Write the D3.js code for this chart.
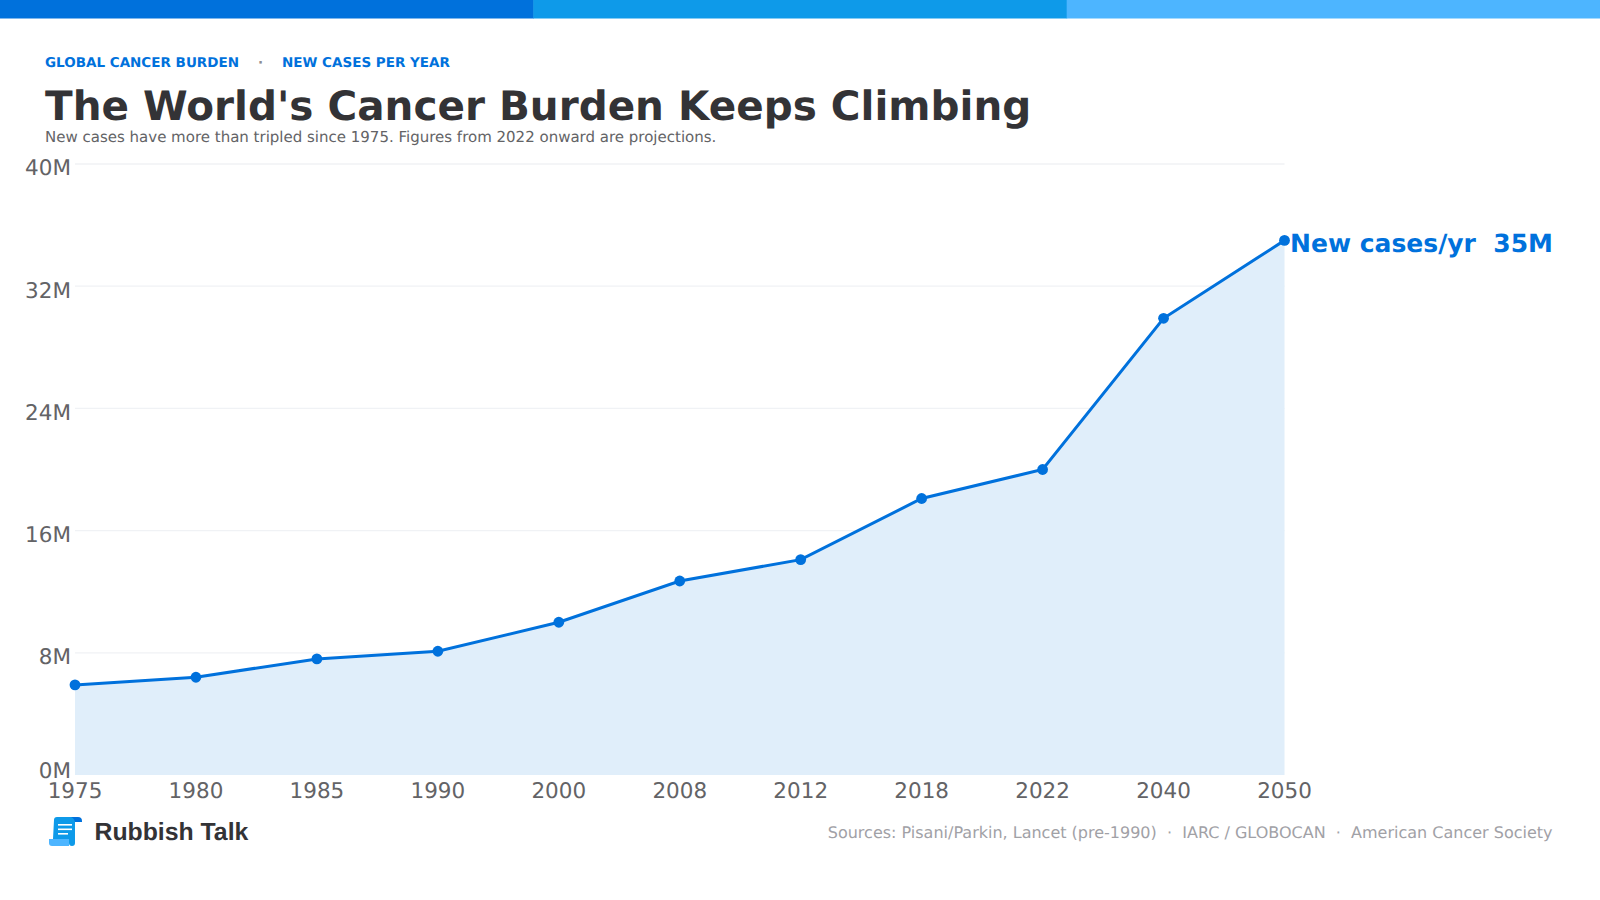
<!DOCTYPE html>
<html><head><meta charset="utf-8">
<script src="https://cdn.jsdelivr.net/npm/d3@7"></script>
<style>html,body{margin:0;padding:0;background:#fff}svg{display:block;font-family:"DejaVu Sans";text-rendering:geometricPrecision}</style>
</head><body><svg id="c" width="1600" height="900"></svg>
<script>
const years=["1975","1980","1985","1990","2000","2008","2012","2018","2022","2040","2050"];
const newCases=[5.9,6.4,7.6,8.1,10,12.7,14.1,18.1,20,29.9,35];
const yTicks=[0,8,16,24,32,40];
const bandColors=["#0071DC","#0E9AE9","#4DB5FF"];
const svg=d3.select("#c");
const W=1600,plot={l:75,r:1284.5,t:164,b:775};
const x=d3.scalePoint().domain(years).range([plot.l,plot.r]);
const y=d3.scaleLinear().domain([0,40]).range([plot.b,plot.t]);
const blue="#0071DC",grey="#636366";
svg.selectAll("rect.band").data(bandColors).join("rect").attr("class","band")
 .attr("x",(d,i)=>i*W/3).attr("y",0).attr("width",W/3+.5).attr("height",18.5).attr("fill",d=>d);
const txt=(t,xx,yy,size,fill,weight,anchor)=>svg.append("text").text(t).attr("x",xx).attr("y",yy).attr("font-size",size).attr("fill",fill).attr("font-weight",weight||"normal").attr("text-anchor",anchor||"start");
txt("GLOBAL CANCER BURDEN",45,67,13.5,blue,"bold");
txt("·",258,67,13.5,"#8e8e93","bold");
txt("NEW CASES PER YEAR",282,67,13.5,blue,"bold");
txt("The World's Cancer Burden Keeps Climbing",45,120,40.5,"#333336","bold");
txt("New cases have more than tripled since 1975. Figures from 2022 onward are projections.",45,141.5,15,grey);
// grid + y axis
const gy=svg.append("g").attr("transform",`translate(${plot.l},0)`).call(d3.axisLeft(y).tickValues(yTicks).tickSize(0).tickPadding(4).tickFormat(d=>d+"M"));
gy.select(".domain").remove();
gy.selectAll("text").attr("font-family","DejaVu Sans").attr("font-size",21.5).attr("fill",grey).attr("dy","0.55em").attr("y",d=>d===0?-9:-1);
svg.append("g").selectAll("line").data(yTicks.filter(d=>d>0)).join("line")
 .attr("x1",plot.l).attr("x2",plot.r).attr("y1",d=>y(d)).attr("y2",d=>y(d)).attr("stroke","#f0f2f5").attr("stroke-width",1.3);
const pts=years.map((k,i)=>({k,v:newCases[i]}));
svg.append("path").datum(pts).attr("fill","#E0EEFA").attr("d",d3.area().x(d=>x(d.k)).y0(y(0)).y1(d=>y(d.v)));
svg.append("path").datum(pts).attr("fill","none").attr("stroke",blue).attr("stroke-width",3).attr("d",d3.line().x(d=>x(d.k)).y(d=>y(d.v)));
svg.selectAll("circle").data(pts).join("circle").attr("cx",d=>x(d.k)).attr("cy",d=>y(d.v)).attr("r",5.4).attr("fill",blue);
const gx=svg.append("g").attr("transform",`translate(0,${plot.b})`).call(d3.axisBottom(x).tickSize(0).tickPadding(7.5));
gx.select(".domain").remove();
gx.selectAll("text").attr("font-family","DejaVu Sans").attr("font-size",21.5).attr("fill",grey).attr("dx",-0.5);
txt("New cases/yr  35M",1553,252,25,blue,"bold","end").style("white-space","pre");
// logo
const lg=svg.append("g").attr("transform","translate(49,817)");
lg.append("path").attr("d","M0 22 H20 V29 H3 Q0 29 0 26Z").attr("fill","#4DB5FF");
lg.append("path").attr("d","M5 3 Q5 0 8 0 H26 V26 Q26 29 23 29 Q20 29 20 26 V22 H4Z").attr("fill","#0E9AE9");
lg.append("path").attr("d","M22 0 H29 Q33 0 33 4 V5 H26 Q25 1 22 0Z").attr("fill",blue);
[0,1,2].forEach(i=>lg.append("rect").attr("x",9).attr("y",7+i*4.5).attr("width",i==2?10:14).attr("height",1.6).attr("fill","#fff"));
txt("Rubbish Talk",94.5,839.5,24.8,"#333336","bold").attr("font-family","Liberation Sans");
txt("Sources: Pisani/Parkin, Lancet (pre-1990)  ·  IARC / GLOBOCAN  ·  American Cancer Society",1552.5,838,16,"#a1a1a6","normal","end").style("white-space","pre");
</script></body></html>
